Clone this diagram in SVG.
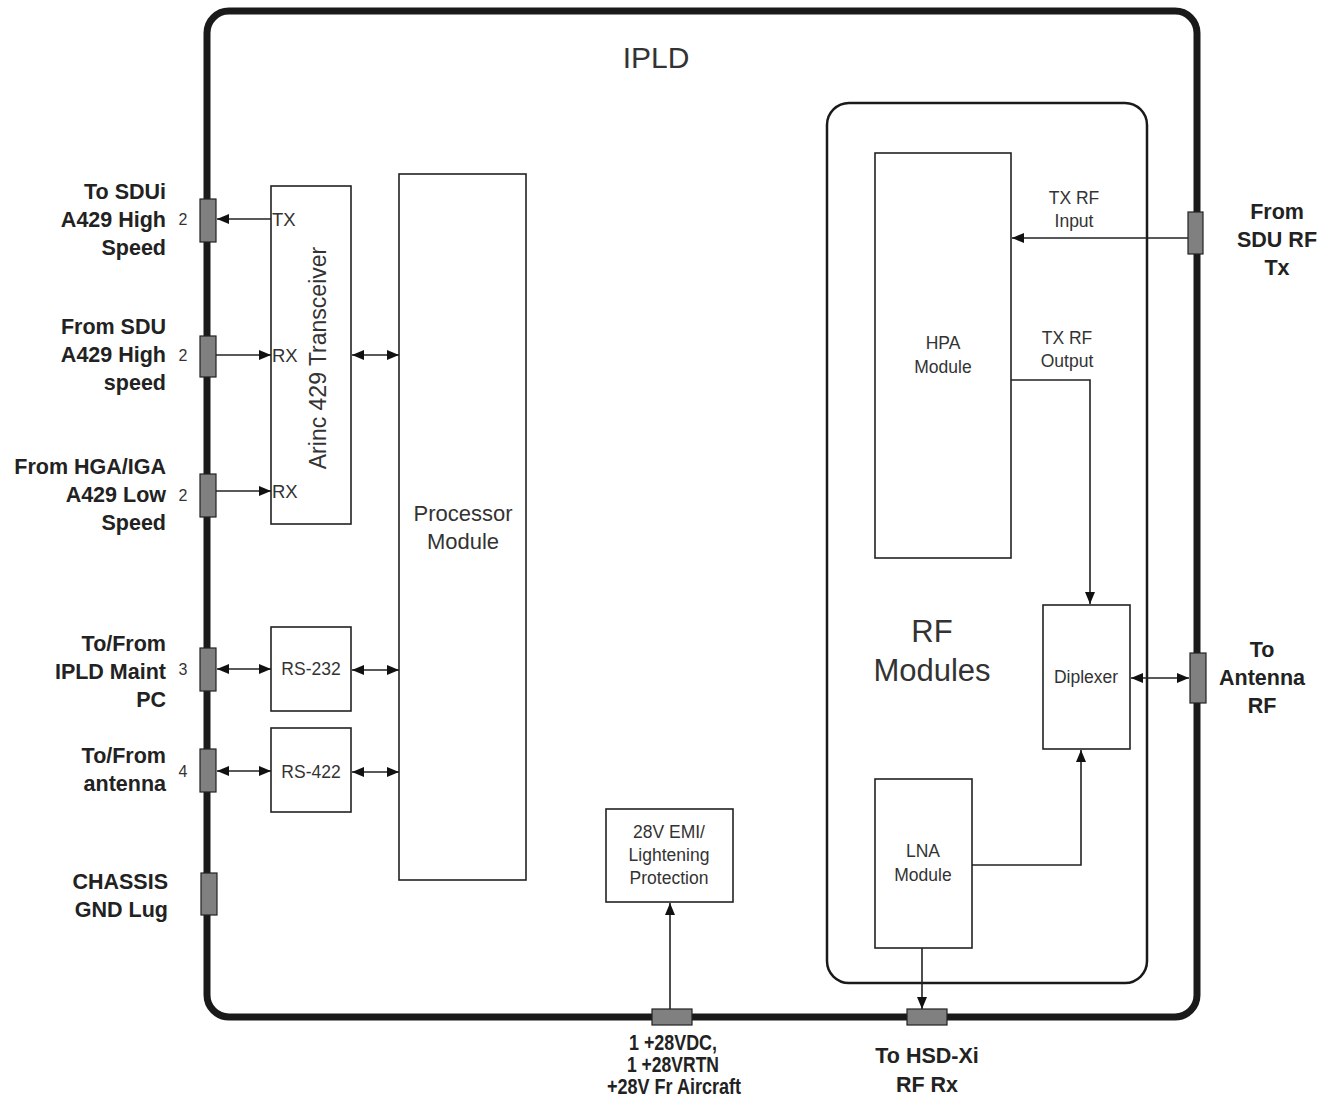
<svg xmlns="http://www.w3.org/2000/svg" width="1332" height="1099" viewBox="0 0 1332 1099">
<style>
.frame{fill:none;stroke:#1a1a1a;stroke-width:7}
.rf{fill:none;stroke:#1a1a1a;stroke-width:2.5}
.box{fill:#fff;stroke:#222;stroke-width:1.6}
.conn{fill:#808080;stroke:#222;stroke-width:1.2}
.ln{fill:none;stroke:#222;stroke-width:1.6}
.arr{marker-end:url(#ah)}
.dbl{marker-start:url(#ah);marker-end:url(#ah)}
.t{font-family:"Liberation Sans",Arial,sans-serif;fill:#333}
.lb{font-family:"Liberation Sans",Arial,sans-serif;font-weight:bold;font-size:21.5px;fill:#222}
.sm{font-size:17.5px}
.num{font-family:"Liberation Sans",Arial,sans-serif;font-size:16px;fill:#333}
</style>
<defs>
<marker id="ah" viewBox="0 0 12 10" refX="12" refY="5" markerWidth="12" markerHeight="10" markerUnits="userSpaceOnUse" orient="auto-start-reverse">
<path d="M0,0 L12,5 L0,10 Z" fill="#111"/>
</marker>
</defs>
<rect width="1332" height="1099" fill="#fff"/>

<g id="ipld">
<rect class="frame" x="207" y="11" width="990" height="1006" rx="22"/>
<text class="t" x="656" y="68" font-size="30" text-anchor="middle" fill="#222">IPLD</text>
</g>

<g id="rf-modules">
<rect class="rf" x="827" y="103" width="320" height="880" rx="22"/>
<text class="t" x="932" y="642" font-size="31" text-anchor="middle">RF</text>
<text class="t" x="932" y="681" font-size="31" text-anchor="middle">Modules</text>
</g>

<g id="arinc">
<rect class="box" x="271" y="186" width="80" height="338"/>
<text class="t" transform="translate(326,358) rotate(-90)" font-size="23" text-anchor="middle">Arinc 429 Transceiver</text>
<text class="t" font-size="18.5" x="272" y="226">TX</text>
<text class="t" font-size="18.5" x="272" y="362">RX</text>
<text class="t" font-size="18.5" x="272" y="498">RX</text>
</g>

<g id="processor">
<rect class="box" x="399" y="174" width="127" height="706"/>
<text class="t" x="463" y="521" font-size="22" text-anchor="middle">Processor</text>
<text class="t" x="463" y="549" font-size="22" text-anchor="middle">Module</text>
</g>

<g id="rs232">
<rect class="box" x="271" y="627" width="80" height="84"/>
<text class="t sm" x="311" y="675" text-anchor="middle">RS-232</text>
</g>
<g id="rs422">
<rect class="box" x="271" y="728" width="80" height="84"/>
<text class="t sm" x="311" y="778" text-anchor="middle">RS-422</text>
</g>

<g id="emi">
<rect class="box" x="606" y="809" width="127" height="93"/>
<text class="t sm" x="669" y="838" text-anchor="middle">28V EMI/</text>
<text class="t sm" x="669" y="861" text-anchor="middle">Lightening</text>
<text class="t sm" x="669" y="884" text-anchor="middle">Protection</text>
</g>

<g id="hpa">
<rect class="box" x="875" y="153" width="136" height="405"/>
<text class="t sm" x="943" y="349" text-anchor="middle">HPA</text>
<text class="t sm" x="943" y="373" text-anchor="middle">Module</text>
</g>

<g id="diplexer">
<rect class="box" x="1043" y="605" width="87" height="144"/>
<text class="t sm" x="1086" y="683" text-anchor="middle">Diplexer</text>
</g>

<g id="lna">
<rect class="box" x="875" y="779" width="97" height="169"/>
<text class="t sm" x="923" y="857" text-anchor="middle">LNA</text>
<text class="t sm" x="923" y="881" text-anchor="middle">Module</text>
</g>

<g id="connectors">
<line class="ln arr" x1="271" y1="219" x2="217" y2="219"/>
<line class="ln arr" x1="216" y1="355" x2="271" y2="355"/>
<line class="ln arr" x1="216" y1="491" x2="271" y2="491"/>
<line class="ln dbl" x1="352" y1="355" x2="399" y2="355"/>
<line class="ln dbl" x1="217" y1="669" x2="271" y2="669"/>
<line class="ln dbl" x1="352" y1="670" x2="399" y2="670"/>
<line class="ln dbl" x1="217" y1="771" x2="271" y2="771"/>
<line class="ln dbl" x1="352" y1="772" x2="399" y2="772"/>
<line class="ln arr" x1="1188" y1="238" x2="1012" y2="238"/>
<polyline class="ln arr" points="1011,380 1090,380 1090,604"/>
<line class="ln dbl" x1="1131" y1="678" x2="1189" y2="678"/>
<polyline class="ln arr" points="972,865 1081,865 1081,750"/>
<line class="ln arr" x1="922" y1="948" x2="922" y2="1009"/>
<line class="ln arr" x1="670" y1="1009" x2="670" y2="903"/>
</g>

<g id="ports">
<rect class="conn" x="200" y="199" width="16" height="43"/>
<rect class="conn" x="200" y="336" width="16" height="41"/>
<rect class="conn" x="200" y="474" width="16" height="43"/>
<rect class="conn" x="200" y="648" width="16" height="43"/>
<rect class="conn" x="200" y="749" width="16" height="43"/>
<rect class="conn" x="201" y="873" width="16" height="42"/>
<rect class="conn" x="1188" y="212" width="15" height="42"/>
<rect class="conn" x="1190" y="653" width="16" height="50"/>
<rect class="conn" x="652" y="1009" width="40" height="16"/>
<rect class="conn" x="907" y="1009" width="40" height="16"/>
</g>

<g id="labels">
<text class="lb" text-anchor="end"><tspan x="166" y="199">To SDUi</tspan><tspan x="166" y="227">A429 High</tspan><tspan x="166" y="255">Speed</tspan></text>
<text class="lb" text-anchor="end"><tspan x="166" y="334">From SDU</tspan><tspan x="166" y="362">A429 High</tspan><tspan x="166" y="390">speed</tspan></text>
<text class="lb" text-anchor="end"><tspan x="166" y="474">From HGA/IGA</tspan><tspan x="166" y="502">A429 Low</tspan><tspan x="166" y="530">Speed</tspan></text>
<text class="lb" text-anchor="end"><tspan x="166" y="651">To/From</tspan><tspan x="166" y="679">IPLD Maint</tspan><tspan x="166" y="707">PC</tspan></text>
<text class="lb" text-anchor="end"><tspan x="166" y="763">To/From</tspan><tspan x="166" y="791">antenna</tspan></text>
<text class="lb" text-anchor="end"><tspan x="168" y="889">CHASSIS</tspan><tspan x="168" y="917">GND Lug</tspan></text>
<text class="num" x="183" y="225" text-anchor="middle">2</text>
<text class="num" x="183" y="361" text-anchor="middle">2</text>
<text class="num" x="183" y="501" text-anchor="middle">2</text>
<text class="num" x="183" y="675" text-anchor="middle">3</text>
<text class="num" x="183" y="777" text-anchor="middle">4</text>
<text class="lb" text-anchor="middle"><tspan x="1277" y="219">From</tspan><tspan x="1277" y="247">SDU RF</tspan><tspan x="1277" y="275">Tx</tspan></text>
<text class="lb" text-anchor="middle"><tspan x="1262" y="657">To</tspan><tspan x="1262" y="685">Antenna</tspan><tspan x="1262" y="713">RF</tspan></text>
<text class="lb" font-size="16" fill="#333" text-anchor="middle"><tspan x="673" y="1050" textLength="88" lengthAdjust="spacingAndGlyphs">1 +28VDC,</tspan><tspan x="673" y="1072" textLength="92" lengthAdjust="spacingAndGlyphs">1 +28VRTN</tspan><tspan x="674" y="1094" textLength="134" lengthAdjust="spacingAndGlyphs">+28V Fr Aircraft</tspan></text>
<text class="lb" font-size="22" text-anchor="middle"><tspan x="927" y="1063">To HSD-Xi</tspan><tspan x="927" y="1092">RF Rx</tspan></text>
<text class="t sm" text-anchor="middle"><tspan x="1074" y="204">TX RF</tspan><tspan x="1074" y="227">Input</tspan></text>
<text class="t sm" text-anchor="middle"><tspan x="1067" y="344">TX RF</tspan><tspan x="1067" y="367">Output</tspan></text>
</g>
</svg>
